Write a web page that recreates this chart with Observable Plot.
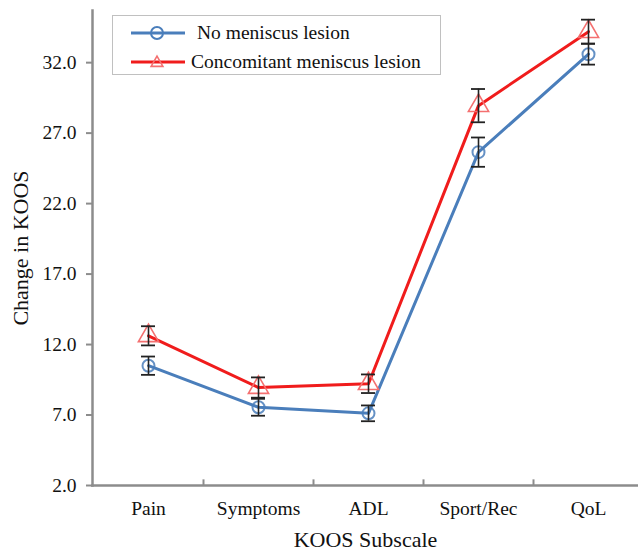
<!DOCTYPE html>
<html>
<head>
<meta charset="utf-8">
<script src="https://cdn.jsdelivr.net/npm/d3@7"></script>
<script src="https://cdn.jsdelivr.net/npm/@observablehq/plot@0.6"></script>
<style>
  html, body { margin: 0; padding: 0; background: #fff; }
  #wrap { position: relative; width: 638px; height: 552px; overflow: hidden; font-family: "Liberation Serif", "DejaVu Serif", serif; }
  #legend { position: absolute; left: 112px; top: 15px; width: 327px; height: 58px; border: 1.5px solid #c0c0c0; background: #fff; font-size: 19.5px; color: #111; }
  .row { position: absolute; left: 16px; height: 24px; display: flex; align-items: center; }
  .row svg { margin-right: 4px; }
</style>
</head>
<body>
<div id="wrap"></div>
<script>
const categories = ["Pain", "Symptoms", "ADL", "Sport/Rec", "QoL"];
const seriesNames = ["No meniscus lesion", "Concomitant meniscus lesion"];
const noLesionMean = [10.5, 7.55, 7.12, 25.65, 32.6];
const noLesionErr  = [0.65, 0.6, 0.56, 1.04, 0.74];
const lesionMean   = [12.62, 8.95, 9.22, 28.95, 34.2];
const lesionErr    = [0.68, 0.72, 0.66, 1.18, 0.85];
const yTicks = [2, 7, 12, 17, 22, 27, 32];

const blue = "#4a7ebb";
const red = "#f01c1c";

const rows = [];
categories.forEach((c, i) => {
  rows.push({cat: c, series: seriesNames[0], mean: noLesionMean[i], err: noLesionErr[i]});
  rows.push({cat: c, series: seriesNames[1], mean: lesionMean[i], err: lesionErr[i]});
});
const blueRows = rows.filter(d => d.series === seriesNames[0]);
const redRows = rows.filter(d => d.series === seriesNames[1]);

const chart = Plot.plot({
  width: 638,
  height: 552,
  marginTop: 10,
  marginBottom: 67,
  marginLeft: 92,
  marginRight: 0,
  style: {fontFamily: "Liberation Serif, serif", fontSize: "19px", color: "#111", background: "#fff"},
  x: {domain: categories, range: [93, 643], padding: 0},
  y: {domain: [2, 35.7]},
  marks: [
    Plot.axisY({ticks: yTicks, tickFormat: d3.format(".1f"), tickSize: 6, tickPadding: 10, stroke: "#8c8c8c", strokeWidth: 2, fontSize: 19.5, label: null}),
    Plot.axisX({tickSize: 0, tickPadding: 16, fontSize: 19.5, label: null}),
    Plot.text(["Change in KOOS"], {frameAnchor: "left", dx: -72, rotate: -90, fontSize: 22, text: d => d, textAnchor: "middle"}),
    Plot.text(["KOOS Subscale"], {frameAnchor: "bottom", dy: 61, fontSize: 22, text: d => d}),
    Plot.ruleX(categories.slice(1), {x: d => d, dx: -55, y1: 2, y2: 2.4, stroke: "#8c8c8c", strokeWidth: 2}),
    Plot.frame({anchor: "left", stroke: "#8c8c8c", strokeWidth: 2.5}),
    Plot.frame({anchor: "bottom", stroke: "#8c8c8c", strokeWidth: 2.5}),
    Plot.line(blueRows, {x: "cat", y: "mean", stroke: blue, strokeWidth: 3}),
    Plot.line(redRows, {x: "cat", y: "mean", stroke: red, strokeWidth: 3}),
    Plot.dot(blueRows, {x: "cat", y: "mean", r: 6, stroke: blue, strokeWidth: 2, fill: "none", strokeOpacity: 0.85}),
    Plot.dot(redRows, {x: "cat", y: "mean", r: 7.5, symbol: "triangle", stroke: "#f47070", strokeWidth: 1.6, fill: "none"}),
    Plot.ruleX(rows, {x: "cat", y1: d => d.mean - d.err, y2: d => d.mean + d.err, stroke: "#222", strokeWidth: 1.6}),
    Plot.tickY(rows, {x: "cat", y: d => d.mean - d.err, insetLeft: 48, insetRight: 48, stroke: "#222", strokeWidth: 1.8}),
    Plot.tickY(rows, {x: "cat", y: d => d.mean + d.err, insetLeft: 48, insetRight: 48, stroke: "#222", strokeWidth: 1.8})
  ]
});

const wrap = document.getElementById("wrap");
wrap.appendChild(chart);

const legend = document.createElement("div");
legend.id = "legend";
const swatch = (color, markerColor, kind) => {
  const marker = kind === "circle"
    ? `<circle cx="28" cy="12" r="6" fill="none" stroke="${markerColor}" stroke-width="2"/>`
    : `<path d="${d3.symbol(d3.symbolTriangle, 60)()}" transform="translate(28,13)" fill="none" stroke="${markerColor}" stroke-width="1.6"/>`;
  return `<svg width="58" height="24"><line x1="2" x2="56" y1="12" y2="12" stroke="${color}" stroke-width="3"/>${marker}</svg>`;
};
legend.innerHTML =
  `<div class="row" style="top:5px">${swatch(blue, blue, "circle")}<span style="margin-left:6px">${seriesNames[0]}</span></div>` +
  `<div class="row" style="top:34px">${swatch(red, "#f47070", "triangle")}<span>${seriesNames[1]}</span></div>`;
wrap.appendChild(legend);
</script>
</body>
</html>
